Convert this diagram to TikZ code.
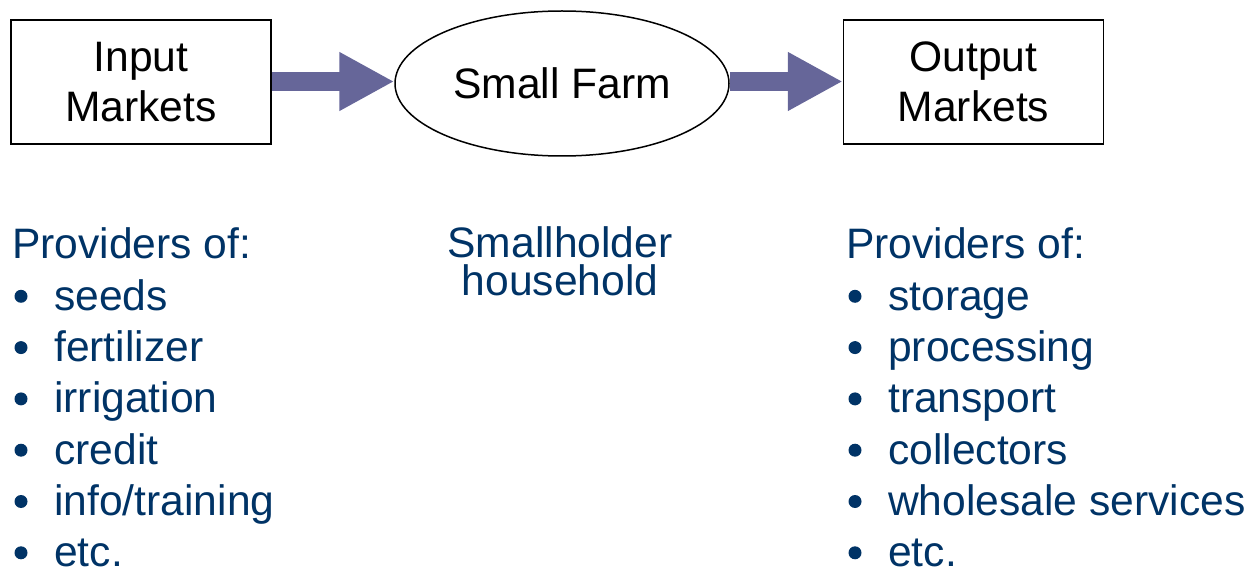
\documentclass[tikz,border=0pt]{standalone}
\usepackage{fontspec}
\setmainfont{Liberation Sans}
\usetikzlibrary{arrows.meta,shapes.geometric}
\definecolor{navy}{HTML}{003366}
\definecolor{flow}{HTML}{666699}
\begin{document}
\begin{tikzpicture}[x=1pt,y=-1pt,
  big/.style={font=\fontsize{42.6}{50}\selectfont},
  market/.style={big,draw=black,line width=1.5pt,align=center,
    minimum width=260pt,minimum height=124pt,inner sep=0pt},
  farm/.style={big,draw=black,line width=1.5pt,ellipse,
    minimum width=334pt,minimum height=145pt,inner sep=0pt},
  flowarrow/.style={draw=flow,line width=19pt,
    -{Triangle[length=55pt,width=55pt]}},
  listtext/.style={big,text=navy,inner sep=0pt,anchor=base west},
  bullet/.style={circle,fill=navy,inner sep=0pt,minimum size=13pt},
  centertext/.style={big,text=navy,inner sep=0pt,anchor=base}]
\useasboundingbox (0,0) rectangle (1251,569);

% top row: markets and the farm
\node[market] (input) at (141,82) {Input\\Markets};
\node[farm] (farm) at (562,83.5) {Small Farm};
\node[market] (output) at (973.5,82) {Output\\Markets};

\draw[flowarrow] (input.east |- 0,81.5) -- (farm.west |- 0,81.5);
\draw[flowarrow] (farm.east |- 0,81.5) -- (output.west |- 0,81.5);

% provider lists
\node[listtext] (inhead) at (12,259) {Providers of:};
\node[listtext] (outhead) at (846,259) {Providers of:};
\foreach \t [count=\i] in {seeds,fertilizer,irrigation,credit,info/training,etc.}{
  \node[bullet] (inb\i) at (21,245+51.3*\i) {};
  \node[listtext] (in\i) at (54,259+51.3*\i) {\t};
}
\foreach \t [count=\i] in {storage,processing,transport,collectors,wholesale services,etc.}{
  \node[bullet] (outb\i) at (855,245+51.3*\i) {};
  \node[listtext] (out\i) at (888,259+51.3*\i) {\t};
}

% household label under the farm
\node[centertext] (hh1) at (560,257.5) {Smallholder};
\node[centertext] (hh2) at (560,296) {household};
\end{tikzpicture}
\end{document}
